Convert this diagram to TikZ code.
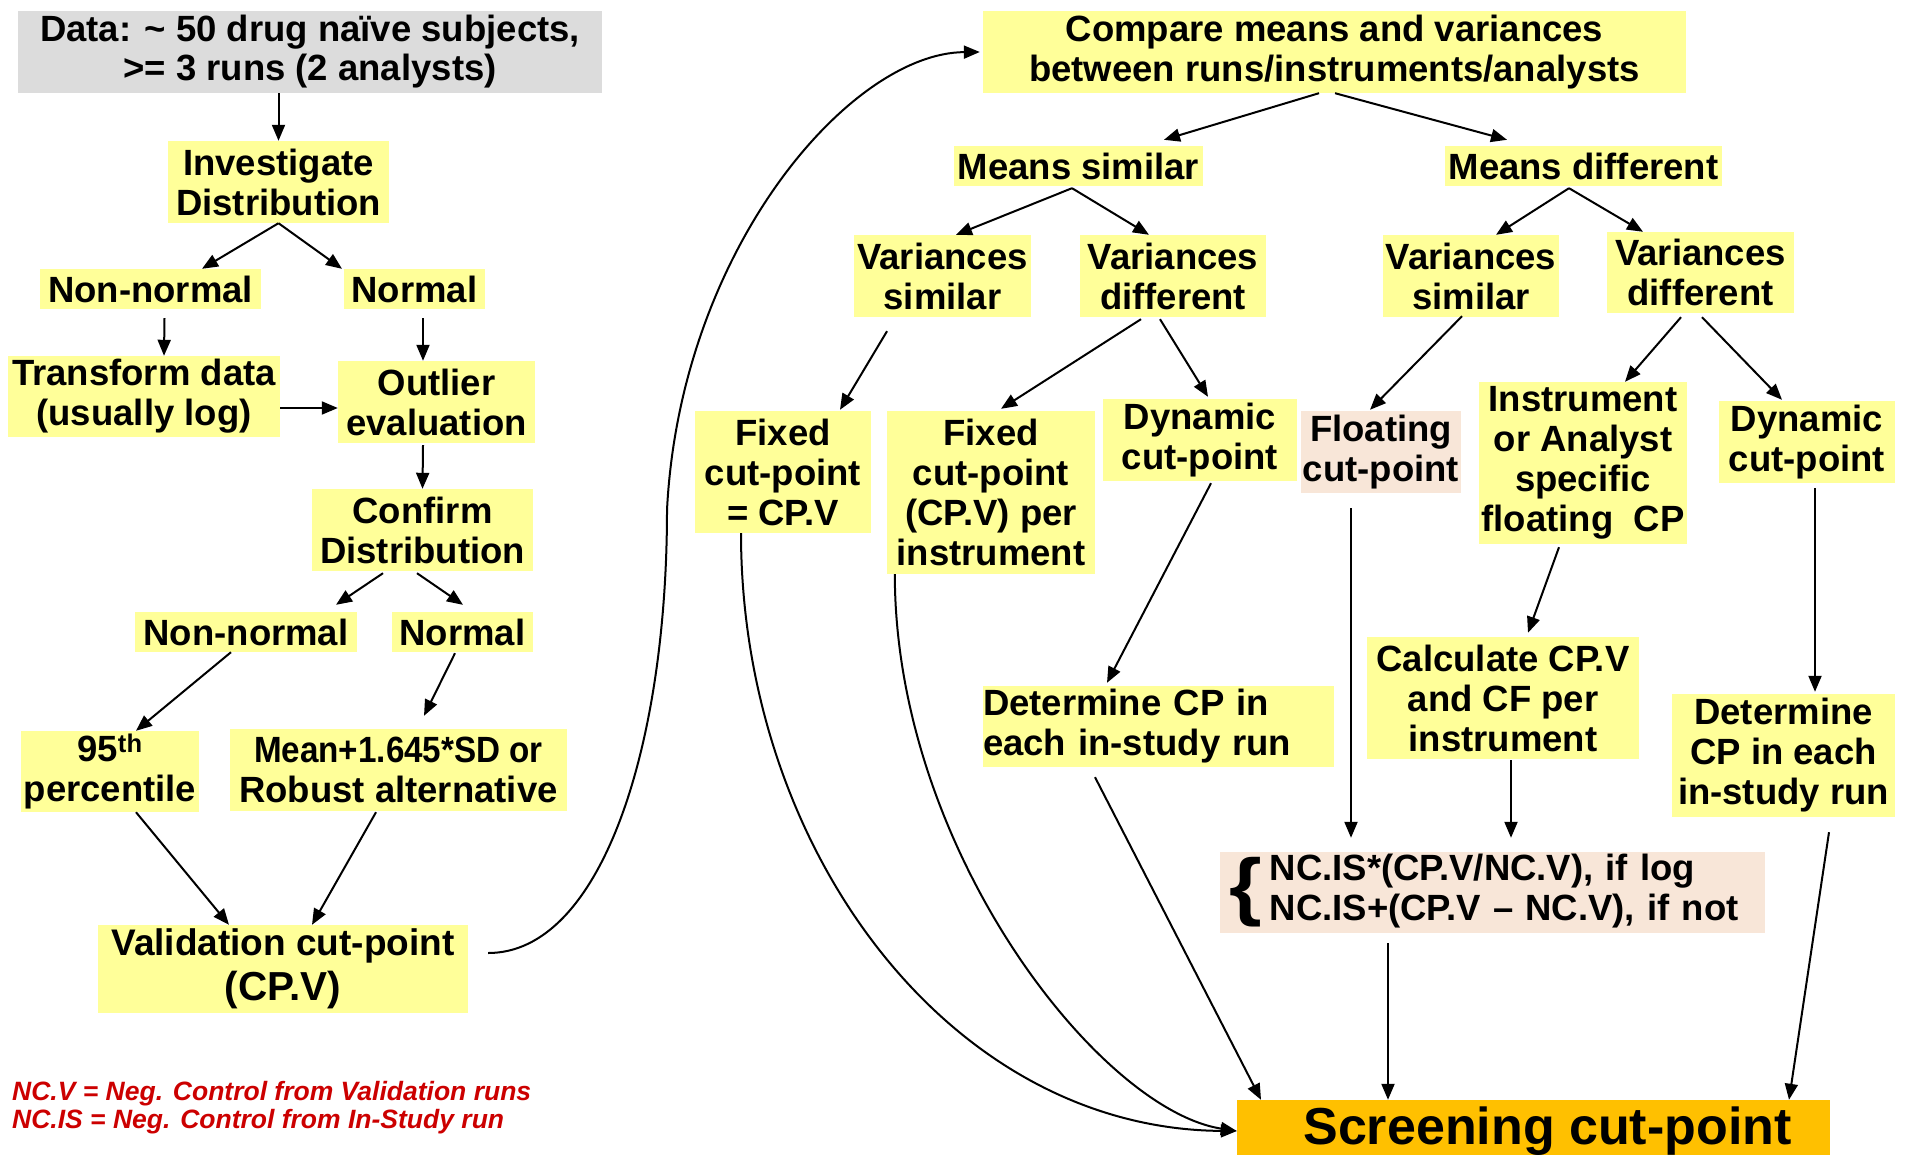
\documentclass[tikz,border=0pt]{standalone}
\usepackage{fontspec}
\setmainfont{Liberation Sans}
\usetikzlibrary{arrows.meta}
\definecolor{boxyellow}{RGB}{255,255,153}
\definecolor{boxpeach}{RGB}{248,230,216}
\definecolor{boxgrey}{RGB}{220,220,220}
\definecolor{boxorange}{RGB}{255,192,0}
\definecolor{notered}{RGB}{204,0,0}
\begin{document}
\begin{tikzpicture}[x=1pt,y=-1pt,
    box/.style={fill=boxyellow,inner sep=0pt,align=center,
      font=\fontsize{36.5}{40}\selectfont\bfseries},
    peachbox/.style={box,fill=boxpeach},
    note/.style={anchor=base west,inner sep=0pt,text=notered,
      font=\fontsize{26.5}{28}\selectfont\bfseries\itshape},
    arr/.style={-{Triangle[length=16pt,width=13pt]},line width=2pt}]
      \useasboundingbox (0,0) rectangle (1910,1155);
      \node[box,fill=boxgrey,minimum width=584pt,minimum height=82pt,
        font=\fontsize{36.5}{39}\selectfont\bfseries] (data) at (310,52)
        {Data: \textasciitilde{} 50 drug naïve subjects,\\>= 3 runs (2 analysts)};
      \node[box,minimum width=221pt,minimum height=82pt] (inv) at (278.5,182) {Investigate\\Distribution};
      \node[box,minimum width=221pt,minimum height=40pt] (nn1) at (150.5,289) {Non-normal};
      \node[box,minimum width=141pt,minimum height=40pt] (n1) at (414.5,289) {Normal};
      \node[box,minimum width=272pt,minimum height=81pt] (trans) at (144,396.5) {Transform data\\(usually log)};
      \node[box,minimum width=197pt,minimum height=82pt] (outl) at (436.5,402) {Outlier\\evaluation};
      \node[box,minimum width=221pt,minimum height=82pt] (conf) at (422.5,530) {Confirm\\Distribution};
      \node[box,minimum width=222pt,minimum height=40pt] (nn2) at (246,632) {Non-normal};
      \node[box,minimum width=141pt,minimum height=40pt] (n2) at (462.5,632) {Normal};
      \node[box,minimum width=178pt,minimum height=81pt] (pct) at (110,771.5) {95\textsuperscript{th}\\percentile};
      \node[box,minimum width=337pt,minimum height=82pt] (mean) at (398.5,770)
        {\scalebox{0.91}[1]{Mean+1.645*SD or}\\Robust alternative};
      \node[box,minimum width=370pt,minimum height=88pt,
        font=\fontsize{37}{45}\selectfont\bfseries] (valid) at (283,969)
        {Validation cut-point\\{\fontsize{40.5}{45}\selectfont (CP.V)}};
      \node[note] (leg1) at (12,1100) {NC.V = Neg. Control from Validation runs};
      \node[note] (leg2) at (12,1128) {NC.IS = Neg. Control from In-Study run};
      \node[box,minimum width=703pt,minimum height=82pt] (comp) at (1334.5,52)
        {Compare means and variances\\between runs/instruments/analysts};
      \node[box,minimum width=249pt,minimum height=40pt] (ms) at (1078.5,166) {Means similar};
      \node[box,minimum width=277pt,minimum height=40pt] (md) at (1583.5,166) {Means different};
      \node[box,minimum width=177pt,minimum height=82pt] (vs1) at (942.5,276) {Variances\\similar};
      \node[box,minimum width=186pt,minimum height=82pt] (vd1) at (1173,276) {Variances\\different};
      \node[box,minimum width=176pt,minimum height=82pt] (vs2) at (1471,276) {Variances\\similar};
      \node[box,minimum width=187pt,minimum height=81pt] (vd2) at (1700.5,272.5) {Variances\\different};
      \node[box,minimum width=176pt,minimum height=122pt] (fix1) at (783,472) {Fixed\\cut-point\\= CP.V};
      \node[box,minimum width=208pt,minimum height=163pt] (fix2) at (991,492.5) {Fixed\\cut-point\\(CP.V) per\\instrument};
      \node[box,minimum width=194pt,minimum height=82pt] (dyn1) at (1200,440) {Dynamic\\cut-point};
      \node[peachbox,minimum width=160pt,minimum height=82pt] (float) at (1381,452) {Floating\\cut-point};
      \node[box,minimum width=208pt,minimum height=162pt] (instr) at (1583,463)
        {Instrument\\or Analyst\\specific\\floating~~CP};
      \node[box,minimum width=176pt,minimum height=82pt] (dyn2) at (1807,442) {Dynamic\\cut-point};
      \node[box,text width=351pt,align=left,minimum height=81pt] (det1) at (1158.5,726.5)
        {Determine CP in\\each in-study run};
      \node[box,minimum width=272pt,minimum height=122pt] (calc) at (1503,698) {Calculate CP.V\\and CF per\\instrument};
      \node[box,minimum width=223pt,minimum height=123pt] (det2) at (1783.5,755.5) {Determine\\CP in each\\in-study run};
      \node[peachbox,text width=527pt,inner xsep=9pt,align=left,minimum height=81pt] (nc) at (1492.5,892.5)
        {$\vcenter{\hbox{\scalebox{2.3}[2.05]{\{}}}\kern8pt
          \vcenter{\hbox{\begin{tabular}{@{}l@{}}NC.IS*(CP.V/NC.V), if log\\NC.IS+(CP.V – NC.V), if not\end{tabular}}}$};
      \node[box,fill=boxorange,minimum width=593pt,minimum height=62pt,
        font=\fontsize{52}{56}\selectfont\bfseries] (screen) at (1533.5,1131)
        {\hspace*{28pt}Screening cut-point};
      \begin{scope}[arr]
        \draw (data.south -| inv.north) -- (inv.north);
        \draw (inv.south) -- ([xshift=51.5pt]nn1.north);
        \draw (inv.south) -- ([xshift=-72.5pt]n1.north);
        \draw ([xshift=14pt,yshift=-9pt]nn1.south) -- ([xshift=20pt]trans.north);
        \draw ([xshift=8.5pt,yshift=-9pt]n1.south) -- ([xshift=-13.5pt]outl.north);
        \draw ([yshift=-11.5pt]trans.east) -- ([yshift=-6pt]outl.west);
        \draw ([xshift=-13.5pt,yshift=-2pt]outl.south) -- (conf.north);
        \draw ([xshift=-39.5pt,yshift=-2pt]conf.south) -- ([xshift=90pt,yshift=7pt]nn2.north);
        \draw ([xshift=-5.5pt,yshift=-2pt]conf.south) -- ([xshift=0.5pt,yshift=7pt]n2.north);
        \draw ([xshift=-15pt]nn2.south) -- ([xshift=26pt]pct.north);
        \draw ([xshift=-7.5pt,yshift=-1pt]n2.south) -- ([xshift=25.5pt,yshift=13pt]mean.north);
        \draw ([xshift=26pt]pct.south) -- ([xshift=-54pt]valid.north);
        \draw ([xshift=-22.5pt,yshift=-1pt]mean.south) -- ([xshift=29pt]valid.north);
        \draw ([xshift=20pt,yshift=16pt]valid.east) .. controls (600,953) and (667,750) .. (667,510)
          .. controls (680,250) and (850,53) .. ([xshift=-3pt]comp.west);
        \draw ([xshift=-15.5pt]comp.south) -- ([xshift=85.5pt,yshift=6pt]ms.north);
        \draw ([xshift=0.5pt]comp.south) -- ([xshift=-76.5pt,yshift=6pt]md.north);
        \draw ([xshift=-6.5pt,yshift=-2pt]ms.south) -- ([xshift=13.5pt]vs1.north);
        \draw ([xshift=-6.5pt,yshift=-2pt]ms.south) -- ([xshift=-24pt]vd1.north);
        \draw ([xshift=-14.5pt,yshift=-2pt]md.south) -- ([xshift=25pt]vs2.north);
        \draw ([xshift=-14.5pt,yshift=-2pt]md.south) -- ([xshift=-57.5pt]vd2.north);
        \draw ([xshift=-55.5pt,yshift=-14pt]vs1.south) -- ([xshift=57pt,yshift=1pt]fix1.north);
        \draw ([xshift=-32pt,yshift=-2pt]vd1.south) -- ([xshift=10pt,yshift=2pt]fix2.north);
        \draw ([xshift=-13pt,yshift=-2pt]vd1.south) -- ([xshift=8pt,yshift=2pt]dyn1.north);
        \draw ([xshift=-9pt,yshift=1pt]vs2.south) -- ([xshift=-11pt,yshift=1pt]float.north);
        \draw ([xshift=-19.5pt,yshift=-4pt]vd2.south) -- ([xshift=42pt]instr.north);
        \draw ([xshift=1.5pt,yshift=-4pt]vd2.south) -- ([xshift=-25pt,yshift=1pt]dyn2.north);
        \draw ([xshift=11pt,yshift=-2pt]dyn1.south) -- ([xshift=-51.5pt,yshift=3pt]det1.north);
        \draw ([xshift=-30pt,yshift=-15pt]float.south) -- ([xshift=-141.5pt,yshift=14pt]nc.north);
        \draw ([xshift=-24pt,yshift=-3pt]instr.south) -- ([xshift=25pt,yshift=4pt]calc.north);
        \draw ([xshift=8pt,yshift=-5pt]dyn2.south) -- ([xshift=31.5pt,yshift=2pt]det2.north);
        \draw ([xshift=8pt,yshift=-1pt]calc.south) -- ([xshift=18.5pt,yshift=14pt]nc.north);
        \draw ([xshift=-104.5pt,yshift=-10pt]nc.south) -- ([xshift=-145.5pt]screen.north);
        \draw ([xshift=-63.5pt,yshift=-10pt]det1.south) -- ([xshift=-272.5pt]screen.north);
        \draw ([xshift=45.5pt,yshift=-15pt]det2.south) -- ([xshift=255.5pt]screen.north);
        \draw ([xshift=-42pt]fix1.south) .. controls (741,850) and (950,1129) .. (screen.west);
        \draw ([xshift=8pt]fix2.south west) .. controls (895,850) and (1100,1110) .. (screen.west);
      \end{scope}
    \end{tikzpicture}
\end{document}
